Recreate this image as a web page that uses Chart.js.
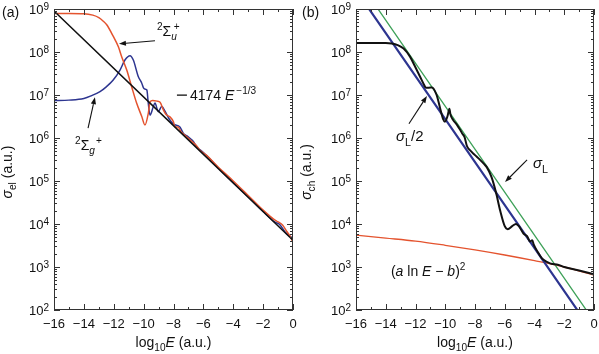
<!DOCTYPE html>
<html><head><meta charset="utf-8">
<script src="https://cdn.jsdelivr.net/npm/chart.js@4.4.1/dist/chart.umd.min.js"></script>
<style>
html,body{margin:0;padding:0;background:#fff;}
#wrap{position:relative;width:599px;height:354px;background:#fff;}
canvas{position:absolute;left:0;top:0;}
</style></head><body>
<div id="wrap"><canvas id="ca" width="599" height="354"></canvas><canvas id="cb" width="599" height="354"></canvas></div>
<script>
// ---------- tick labels ----------
const xTickValues = [-16,-14,-12,-10,-8,-6,-4,-2,0];
const xTickLabels = ['\u221216','\u221214','\u221212','\u221210','\u22128','\u22126','\u22124','\u22122','0'];
const yTickExponents = [2,3,4,5,6,7,8,9];

// ---------- panel (a): elastic cross sections ----------
const aPowerLawX = [-16, 0];
const aPowerLawY = [9.0e8, 4174];

const aSigmaUX = [-16,-15,-14,-13.4,-13.0,-12.7,-12.47,-12.03,-11.69,-11.47,-11.13,-10.8,-10.47,-10.13,-9.91,-9.69,-9.57,-9.4,-9.1,-8.9,-8.68,-8.5,-8.24,-8.01,-7.9,-7.7,-7.5,-7.12,-6.8,-6.5,-6.23,-5.8,-5.11,-4,-3,-2,-1.3,-1.0,-0.7,-0.4,-0.2,0];
const aSigmaUY = [7.9e8,7.9e8,7.8e8,7.2e8,6.3e8,5.2e8,4.3e8,2.3e8,1.32e8,7.8e7,3.8e7,1.55e7,6.5e6,3.2e6,2.0e6,3.7e6,6.9e6,7.4e6,7.2e6,6.8e6,4.5e6,3.5e6,3.1e6,2.4e6,1.8e6,1.8e6,1.4e6,1.07e6,8.5e5,6.9e5,5.2e5,4.0e5,2.3e5,1.0e5,4.6e4,2.1e4,1.3e4,1.12e4,9.5e3,6.6e3,5.2e3,3.8e3];

const aSigmaGX = [-16,-15,-14,-13.5,-12.92,-12.5,-12.05,-11.58,-11.25,-10.91,-10.69,-10.36,-10.13,-10.0,-9.85,-9.78,-9.7,-9.57,-9.35,-9.24,-9.02,-8.79,-8.57,-8.3,-8.0,-7.57,-7.35,-7.1,-6.9,-6.7,-6.45,-6.0,-5.5,-5,-4,-3,-2,-1.2,-0.9,-0.5,0];
const aSigmaGY = [7.4e6,7.6e6,8.3e6,9.6e6,1.2e7,1.55e7,2.2e7,3.8e7,6.5e7,8.2e7,6.5e7,2.7e7,1.9e7,1.45e7,1.35e7,1.3e7,7.1e6,3.4e6,5.4e6,6.5e6,4.1e6,5.4e6,4.2e6,2.8e6,2.1e6,1.8e6,1.3e6,1.12e6,9.8e5,8.5e5,6.3e5,4.6e5,3.1e5,2.0e5,9.1e4,4.3e4,1.95e4,1.1e4,9.8e3,6.3e3,4.6e3];

// ---------- panel (b): charge-exchange cross sections ----------
const bHalfLangevinX = [-16, 0];
const bHalfLangevinY = [2.75e9, 27.5];
const bLangevinX = [-16, 0];
const bLangevinY = [5.5e9, 55];
const bLogFitX = [-16,-14,-12,-10,-8,-6,-4,-2,0];
const bLogFitY = [5500,4700,4000,3200,2500,1900,1400,1000,650];
const bSigmaChX = [-16,-14.5,-14.0,-13.6,-13.2,-12.8,-12.37,-12.03,-11.7,-11.47,-11.3,-11.1,-10.9,-10.58,-10.35,-10.15,-10.02,-9.85,-9.72,-9.65,-9.46,-9.2,-9.0,-8.85,-8.7,-8.55,-8.34,-8.0,-7.66,-7.4,-7.21,-6.9,-6.6,-6.3,-6.0,-5.8,-5.5,-5.25,-5.05,-4.74,-4.5,-4.3,-4.15,-4.05,-3.8,-3.5,-3.17,-2.8,-2.5,-2,-1,0];
const bSigmaChY = [1.62e8,1.62e8,1.62e8,1.58e8,1.45e8,1.2e8,7.8e7,4.6e7,2.7e7,1.86e7,1.48e7,1.48e7,1.5e7,1.0e7,5.0e6,2.8e6,2.4e6,3.2e6,4.8e6,3.5e6,2.6e6,2.0e6,1.55e6,1.26e6,1.05e6,6.6e5,5.2e5,4.0e5,3.1e5,2.5e5,2.1e5,1.26e5,5.6e4,2.0e4,8.9e3,7.6e3,8.9e3,1.0e4,8.9e3,6.0e3,5.2e3,3.9e3,4.2e3,3.3e3,2.3e3,1.58e3,1.32e3,1.17e3,1.15e3,1.0e3,830,680];

const RED = '#e4532e', BLUE = '#2d3590', GREEN = '#3ea158', BLACK = '#111111';
const FONT = '"Liberation Sans", Arial, Helvetica, sans-serif';

function pts(xs, ys){ return xs.map((x,i)=>({x:x, y:ys[i]})); }

function richWidth(ctx, segs, base){
  let w = 0;
  for (const s of segs){
    const size = (s.sup||s.sub) ? base*0.72 : base;
    ctx.font = (s.italic?'italic ':'') + size + 'px ' + FONT;
    w += (s.dx||0) + ctx.measureText(s.t).width;
  }
  return w;
}
function drawRich(ctx, x, y, segs, base){
  let cx = x;
  ctx.textBaseline = 'alphabetic';
  ctx.textAlign = 'left';
  for (const s of segs){
    const size = (s.sup||s.sub) ? base*0.72 : base;
    ctx.font = (s.italic?'italic ':'') + size + 'px ' + FONT;
    const dy = s.sup ? -base*0.42 : (s.sub ? base*0.3 : 0);
    cx += (s.dx||0);
    ctx.fillText(s.t, cx, y+dy);
    cx += ctx.measureText(s.t).width;
  }
  return cx - x;
}
function arrow(ctx, x1, y1, x2, y2){
  const ang = Math.atan2(y2-y1, x2-x1), L = 7, W = 2.6;
  const bx = x2 - L*Math.cos(ang), by = y2 - L*Math.sin(ang);
  ctx.beginPath(); ctx.moveTo(x1,y1); ctx.lineTo(bx,by); ctx.lineWidth = 1.1; ctx.strokeStyle = '#111'; ctx.stroke();
  ctx.beginPath(); ctx.moveTo(x2,y2);
  ctx.lineTo(bx - W*Math.sin(ang), by + W*Math.cos(ang));
  ctx.lineTo(bx + W*Math.sin(ang), by - W*Math.cos(ang));
  ctx.closePath(); ctx.fillStyle = '#111'; ctx.fill();
}

function makeDecor(cfg){
  return {
    id: 'decor' + cfg.tag,
    afterDatasetsDraw(chart){
      const ctx = chart.ctx, a = chart.chartArea, xs = chart.scales.x, ys = chart.scales.y;
      ctx.save();
      ctx.strokeStyle = '#333'; ctx.lineWidth = 1;
      ctx.strokeRect(a.left+0.5, a.top+0.5, a.right-a.left-1, a.bottom-a.top-1);
      ctx.beginPath();
      for (let v=-16; v<=0; v++){
        const px = Math.round(xs.getPixelForValue(v)) + 0.5;
        const len = (v%2===0) ? 6 : 3;
        ctx.moveTo(px, a.bottom); ctx.lineTo(px, a.bottom-len);
        ctx.moveTo(px, a.top); ctx.lineTo(px, a.top+len);
      }
      for (let e=2; e<=9; e++){
        for (let m=1; m<=9; m++){
          const val = m*Math.pow(10,e);
          if (val > 1e9) break;
          const py = Math.round(ys.getPixelForValue(val)) + 0.5;
          const len = (m===1) ? 6 : 3;
          ctx.moveTo(a.left, py); ctx.lineTo(a.left+len, py);
          ctx.moveTo(a.right, py); ctx.lineTo(a.right-len, py);
        }
      }
      ctx.stroke();
      ctx.fillStyle = '#111';
      // x tick labels
      ctx.font = '13px ' + FONT; ctx.textAlign = 'center'; ctx.textBaseline = 'alphabetic';
      xTickValues.forEach((v,i)=>{
        ctx.fillText(xTickLabels[i], xs.getPixelForValue(v), a.bottom + 17.5);
      });
      // y tick labels
      yTickExponents.forEach(e=>{
        const py = ys.getPixelForValue(Math.pow(10,e));
        ctx.font = '10px ' + FONT; ctx.textAlign = 'right';
        const sw = ctx.measureText(String(e)).width;
        ctx.fillText(String(e), a.left-5, py+0.5);
        ctx.font = '13px ' + FONT;
        ctx.fillText('10', a.left-5-sw, py+5);
      });
      // x title
      const xt = [{t:'log'},{t:'10',sub:true},{t:'E',italic:true},{t:' (a.u.)'}];
      const xw = richWidth(ctx, xt, 14);
      drawRich(ctx, (a.left+a.right)/2 - xw/2, 347, xt, 14);
      // y title
      const yt = cfg.yTitle;
      const yw = richWidth(ctx, yt, 14);
      ctx.save();
      ctx.translate(cfg.yTitleX, 172);
      ctx.rotate(-Math.PI/2);
      drawRich(ctx, -yw/2, 0, yt, 14);
      ctx.restore();
      // panel letter
      ctx.font = '14px ' + FONT; ctx.textAlign = 'left';
      ctx.fillText(cfg.letter, cfg.letterX, 17);
      // annotations
      cfg.labels.forEach(l=>{
        const px = xs.getPixelForValue(l.x), py = ys.getPixelForValue(l.y);
        let sx = px;
        if (l.dash){
          ctx.beginPath(); ctx.moveTo(px, py-5); ctx.lineTo(px+10, py-5);
          ctx.lineWidth = 1.3; ctx.strokeStyle = '#111'; ctx.stroke();
          sx = px + 13;
        }
        drawRich(ctx, sx, py, l.segs, l.size||14);
      });
      cfg.arrows.forEach(r=>{
        arrow(ctx, xs.getPixelForValue(r.x1), ys.getPixelForValue(r.y1), xs.getPixelForValue(r.x2), ys.getPixelForValue(r.y2));
      });
      ctx.restore();
    }
  };
}

function ds(xs, ys, color, width, order){
  return {data: pts(xs, ys), borderColor: color, borderWidth: width, pointRadius: 0,
          fill: false, cubicInterpolationMode: 'monotone', order: order};
}
function baseOptions(pad){
  return {
    responsive: false, animation: false, events: [], devicePixelRatio: 1,
    layout: {padding: pad},
    plugins: {legend: {display: false}, tooltip: {enabled: false}},
    scales: {
      x: {type: 'linear', min: -16, max: 0, display: false},
      y: {type: 'logarithmic', min: 100, max: 1e9, display: false}
    }
  };
}

new Chart(document.getElementById('ca'), {
  type: 'line',
  data: {datasets: [
    ds(aPowerLawX, aPowerLawY, BLACK, 1.5, 0),
    ds(aSigmaUX, aSigmaUY, RED, 1.5, 1),
    ds(aSigmaGX, aSigmaGY, BLUE, 1.5, 2)
  ]},
  options: baseOptions({left: 54, top: 9, right: 306, bottom: 44}),
  plugins: [makeDecor({
    tag: 'a', letter: '(a)', letterX: 2, yTitleX: 12,
    yTitle: [{t:'\u03c3',italic:true},{t:'el',sub:true},{t:' (a.u.)'}],
    labels: [
      {x: -9.11, y: 2.34e8, segs: [{t:'2',sup:true},{t:'\u03a3'},{t:'u',sub:true,italic:true},{t:'+',sup:true,dx:-3}]},
      {x: -14.59, y: 5.25e5, segs: [{t:'2',sup:true},{t:'\u03a3'},{t:'g',sub:true,italic:true},{t:'+',sup:true,dx:1}]},
      {x: -7.77, y: 7.6e6, dash: true, segs: [{t:'4174 '},{t:'E',italic:true},{t:'\u22121/3',sup:true,dx:2}]}
    ],
    arrows: [
      {x1: -9.24, y1: 1.82e8, x2: -11.65, y2: 1.55e8},
      {x1: -13.72, y1: 1.7e6, x2: -13.26, y2: 8.9e6}
    ]
  })]
});

new Chart(document.getElementById('cb'), {
  type: 'line',
  data: {datasets: [
    ds(bSigmaChX, bSigmaChY, BLACK, 2, 0),
    ds(bHalfLangevinX, bHalfLangevinY, BLUE, 2.2, 1),
    ds(bLangevinX, bLangevinY, GREEN, 1.3, 2),
    ds(bLogFitX, bLogFitY, RED, 1.3, 3)
  ]},
  options: baseOptions({left: 356, top: 9, right: 5, bottom: 44}),
  plugins: [makeDecor({
    tag: 'b', letter: '(b)', letterX: 302, yTitleX: 311,
    yTitle: [{t:'\u03c3',italic:true},{t:'ch',sub:true},{t:' (a.u.)'}],
    labels: [
      {x: -13.31, y: 8.5e5, size: 15, segs: [{t:'\u03c3',italic:true},{t:'L',sub:true},{t:'/2'}]},
      {x: -4.10, y: 2.0e5, size: 15, segs: [{t:'\u03c3',italic:true},{t:'L',sub:true}]},
      {x: -13.65, y: 617, segs: [{t:'('},{t:'a',italic:true},{t:' ln '},{t:'E',italic:true},{t:' \u2212 '},{t:'b',italic:true},{t:')'},{t:'2',sup:true}]}
    ],
    arrows: [
      {x1: -12.44, y1: 2.14e6, x2: -11.23, y2: 9.5e6},
      {x1: -4.5, y1: 3.1e5, x2: -5.98, y2: 9.5e4}
    ]
  })]
});
</script>
</body></html>
